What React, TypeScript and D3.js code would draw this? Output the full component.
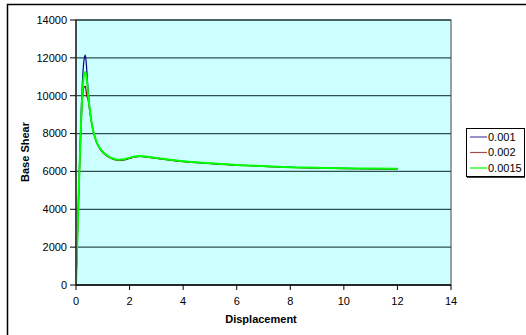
import React from "react";
import * as d3 from "d3";

const xs = [0, 0.05, 0.1, 0.15, 0.2, 0.25, 0.3, 0.35, 0.4, 0.45, 0.5, 0.6, 0.7, 0.8, 1.0, 1.2, 1.4, 1.6, 1.8, 2.0, 2.2, 2.4, 2.6, 2.8, 3.0, 3.5, 4, 5, 6, 7, 8, 9, 10, 11, 12];
const s001 = [0, 2500, 5000, 7300, 9400, 11000, 11900, 12150, 11400, 10300, 9500, 8450, 7850, 7450, 7020, 6790, 6660, 6600, 6620, 6700, 6780, 6800, 6780, 6740, 6700, 6610, 6530, 6430, 6340, 6280, 6220, 6190, 6160, 6145, 6130];
const s002 = [0, 2200, 4500, 6800, 8700, 10000, 10450, 10500, 10000, 9800, 9300, 8400, 7800, 7420, 6990, 6770, 6640, 6590, 6610, 6690, 6770, 6790, 6770, 6730, 6690, 6600, 6520, 6420, 6330, 6270, 6210, 6180, 6150, 6140, 6125];
const s0015 = [0, 2400, 4800, 7000, 9000, 10400, 11100, 11250, 10900, 10100, 9450, 8450, 7850, 7460, 7040, 6800, 6670, 6620, 6640, 6720, 6790, 6810, 6790, 6750, 6710, 6615, 6535, 6435, 6345, 6285, 6225, 6195, 6165, 6150, 6135];
const seriesNames = ["0.001", "0.002", "0.0015"];
const xTicks = [0, 2, 4, 6, 8, 10, 12, 14];
const yTicks = [0, 2000, 4000, 6000, 8000, 10000, 12000, 14000];

const colors = ["#000080", "#800000", "#00FF00"];
const widths = [1.2, 1.2, 2];

export default function App() {
  const left = 76, right = 451, top = 20, bottom = 285;
  const x = d3.scaleLinear().domain([0, 14]).range([left, right]);
  const y = d3.scaleLinear().domain([0, 14000]).range([bottom, top]);
  const series = [s001, s002, s0015];
  const line = (vals: number[]) =>
    d3.line<number>().x((_, i) => x(xs[i])).y((d) => y(d)).curve(d3.curveMonotoneX)(vals) || "";
  const font = "Liberation Sans, Arial, sans-serif";
  const drawOrder = [0, 1, 2];
  return (
    <svg width={526} height={335} style={{ position: "absolute", left: 0, top: 0 }} fontFamily={font}>
      <rect x={0} y={0} width={526} height={335} fill="#fff" />
      <rect x={7.5} y={4.5} width={600} height={400} fill="#fff" stroke="#000" strokeWidth={1.5} />
      <rect x={left} y={top} width={right - left} height={bottom - top} fill="#CCFFFF" stroke="#808080" strokeWidth={1.5} />
      {yTicks.filter((t) => t > 0).map((t) => (
        <line key={t} x1={left} x2={right} y1={y(t)} y2={y(t)} stroke="#2f4f4f" strokeWidth={1.3} />
      ))}
      {drawOrder.map((k) => (
        <path key={k} d={line(series[k])} fill="none" stroke={colors[k]} strokeWidth={widths[k]} />
      ))}
      <line x1={left} x2={left} y1={top} y2={bottom} stroke="#404040" strokeWidth={1.8} />
      <line x1={left} x2={right} y1={bottom} y2={bottom} stroke="#000" strokeWidth={1.5} />
      {yTicks.map((t) => (
        <g key={t}>
          <line x1={left - 6} x2={left} y1={y(t)} y2={y(t)} stroke="#000" strokeWidth={1} />
          <text x={67} y={y(t)} dy="0.35em" textAnchor="end" fontSize={11} fill="#000">{t}</text>
        </g>
      ))}
      {xTicks.map((t) => (
        <g key={t}>
          <line x1={x(t)} x2={x(t)} y1={bottom} y2={bottom + 5} stroke="#000" strokeWidth={1} />
          <text x={x(t)} y={301} dy="0.35em" textAnchor="middle" fontSize={11} fill="#000">{t}</text>
        </g>
      ))}
      <text x={261} y={319} dy="0.35em" textAnchor="middle" fontSize={11} fontWeight="bold" fill="#000">Displacement</text>
      <text transform={`translate(25,152) rotate(-90)`} dy="0.35em" textAnchor="middle" fontSize={11} fontWeight="bold" fill="#000">Base Shear</text>
      <rect x={466.5} y={128.5} width={58} height={48} fill="#fff" stroke="#000" strokeWidth={1} />
      <line x1={467} x2={525} y1={177} y2={177} stroke="#000" strokeWidth={1.5} />
      {seriesNames.map((n, i) => {
        const yy = 137 + i * 15.5;
        return (
          <g key={n}>
            <line x1={470} x2={487} y1={yy} y2={yy} stroke={colors[i]} strokeWidth={i === 2 ? 2 : 1.2} opacity={i === 2 ? 0.6 : 0.7} />
            <text x={488} y={yy} dy="0.35em" fontSize={11} fill="#000">{n}</text>
          </g>
        );
      })}
    </svg>
  );
}
